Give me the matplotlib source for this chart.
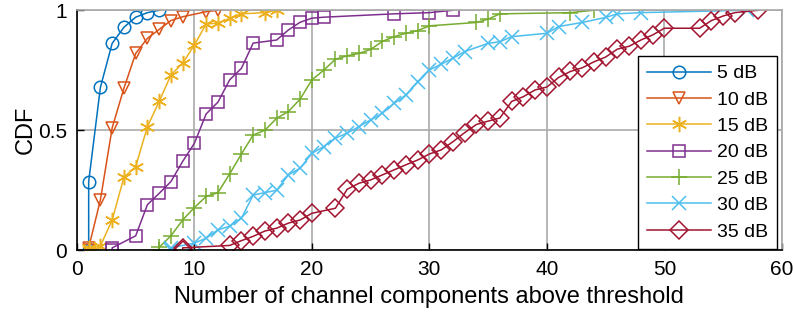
import numpy as np
import matplotlib.pyplot as plt

plt.rcParams['font.family'] = ['Liberation Sans', 'DejaVu Sans']

x5 = [1, 1, 2, 3, 4, 5, 6, 7]
y5 = [0, 0.286, 0.679, 0.862, 0.929, 0.971, 0.99, 1.0]

x10 = [1, 1, 2, 3, 4, 5, 6, 7, 8, 9, 11, 12]
y10 = [0, 0.01, 0.21, 0.51, 0.675, 0.82, 0.883, 0.92, 0.957, 0.973, 0.994, 1.0]

x15 = [1, 1, 2, 3, 4, 5, 6, 7, 8, 9, 10, 11, 12, 13, 14, 16, 17]
y15 = [0, 0.01, 0.018, 0.126, 0.304, 0.348, 0.515, 0.62, 0.73, 0.78, 0.855,
       0.943, 0.946, 0.966, 0.985, 0.99, 1.0]

x20 = [3, 3, 5, 6, 7, 8, 9, 10, 11, 12, 13, 14, 15, 17, 18, 19, 20, 21, 27, 30, 32]
y20 = [0, 0.01, 0.06, 0.19, 0.237, 0.286, 0.37, 0.446, 0.568, 0.617, 0.71, 0.758,
       0.863, 0.876, 0.918, 0.95, 0.967, 0.971, 0.985, 0.99, 1.0]

x25 = [7, 7, 8, 9, 10, 11, 12, 13, 14, 15, 16, 17, 18, 19, 20, 21, 22, 23, 24, 25,
       26, 27, 28, 29, 30, 34, 35, 36, 42, 44]
y25 = [0, 0.012, 0.06, 0.126, 0.178, 0.224, 0.24, 0.318, 0.401, 0.48, 0.5, 0.55,
       0.578, 0.63, 0.71, 0.75, 0.796, 0.81, 0.82, 0.837, 0.87, 0.89, 0.904, 0.915,
       0.935, 0.949, 0.963, 0.985, 0.99, 1.0]

x30 = [8, 8, 10, 11, 12, 13, 14, 15, 16, 17, 18, 19, 20, 21, 22, 23, 24, 25, 26, 27,
       28, 29, 30, 31, 32, 33, 35, 36, 37, 40, 41, 43, 45, 46, 48, 57]
y30 = [0, 0.01, 0.03, 0.05, 0.085, 0.1, 0.133, 0.23, 0.24, 0.25, 0.314, 0.342, 0.404,
       0.432, 0.467, 0.488, 0.515, 0.543, 0.571, 0.612, 0.647, 0.703, 0.751, 0.775,
       0.80, 0.828, 0.862, 0.869, 0.89, 0.904, 0.932, 0.949, 0.97, 0.985, 0.99, 1.0]

x35 = [9, 9, 13, 14, 15, 16, 17, 18, 19, 20, 22, 23, 24, 25, 26, 27, 28, 29, 30, 31,
       32, 33, 34, 35, 36, 37, 38, 39, 40, 41, 42, 43, 44, 45, 46, 47, 48, 49, 50, 53,
       54, 55, 56, 58]
y35 = [0, 0.01, 0.02, 0.04, 0.058, 0.08, 0.092, 0.113, 0.126, 0.154, 0.175, 0.254,
       0.279, 0.293, 0.314, 0.335, 0.356, 0.376, 0.401, 0.418, 0.452, 0.49, 0.524,
       0.538, 0.551, 0.62, 0.64, 0.668, 0.68, 0.72, 0.745, 0.76, 0.785, 0.805, 0.838,
       0.85, 0.876, 0.897, 0.925, 0.925, 0.957, 0.976, 0.99, 1.0]

labels = ['5 dB', '10 dB', '15 dB', '20 dB', '25 dB', '30 dB', '35 dB']
colors = ['#0072BD', '#D95319', '#EDB120', '#7E2F8E', '#77AC30', '#4DBEEE', '#A2142F']
markers = ['o', 'v', (6, 2, 0), 's', '+', 'x', 'D']
sizes = [9, 9, 11, 8, 12, 10, 9]
series = [(x5, y5), (x10, y10), (x15, y15), (x20, y20), (x25, y25), (x30, y30), (x35, y35)]

fig = plt.figure(figsize=(7.93, 3.2), dpi=100)
ax = fig.add_axes([0.097, 0.218, 0.889, 0.750])

for (xs, ys), lab, c, m, ms in zip(series, labels, colors, markers, sizes):
    ax.plot(xs, ys, color=c, linewidth=1.1, marker=m, markersize=ms,
            markerfacecolor='none', markeredgecolor=c, markeredgewidth=1.1, label=lab)

ax.set_xlim(0, 60)
ax.set_ylim(0, 1)
ax.set_xticks(np.arange(0, 61, 10))
ax.set_yticks([0, 0.5, 1])
ax.set_yticklabels(['0', '0.5', '1'])
ax.grid(True, color='#aaaaaa', linewidth=1.2)
ax.set_axisbelow(True)
ax.tick_params(direction='in', length=5, width=1, labelsize=15, pad=7)

for s in ['top', 'right']:
    ax.spines[s].set_color('#a8a8a8')
    ax.spines[s].set_linewidth(1.2)
for s in ['left', 'bottom']:
    ax.spines[s].set_linewidth(1.2)

ax.set_xlabel('Number of channel components above threshold', fontsize=17, labelpad=5)
ax.set_ylabel('CDF', fontsize=17, labelpad=1)

leg = ax.legend(loc='lower right', bbox_to_anchor=(0.993, 0.004), fontsize=14,
                handlelength=3.3, handletextpad=0.3, labelspacing=0.45, borderpad=0.45,
                borderaxespad=0, fancybox=False, framealpha=1)
leg.get_frame().set_edgecolor('black')
leg.get_frame().set_linewidth(1.0)

plt.savefig('out.png', dpi=100)
